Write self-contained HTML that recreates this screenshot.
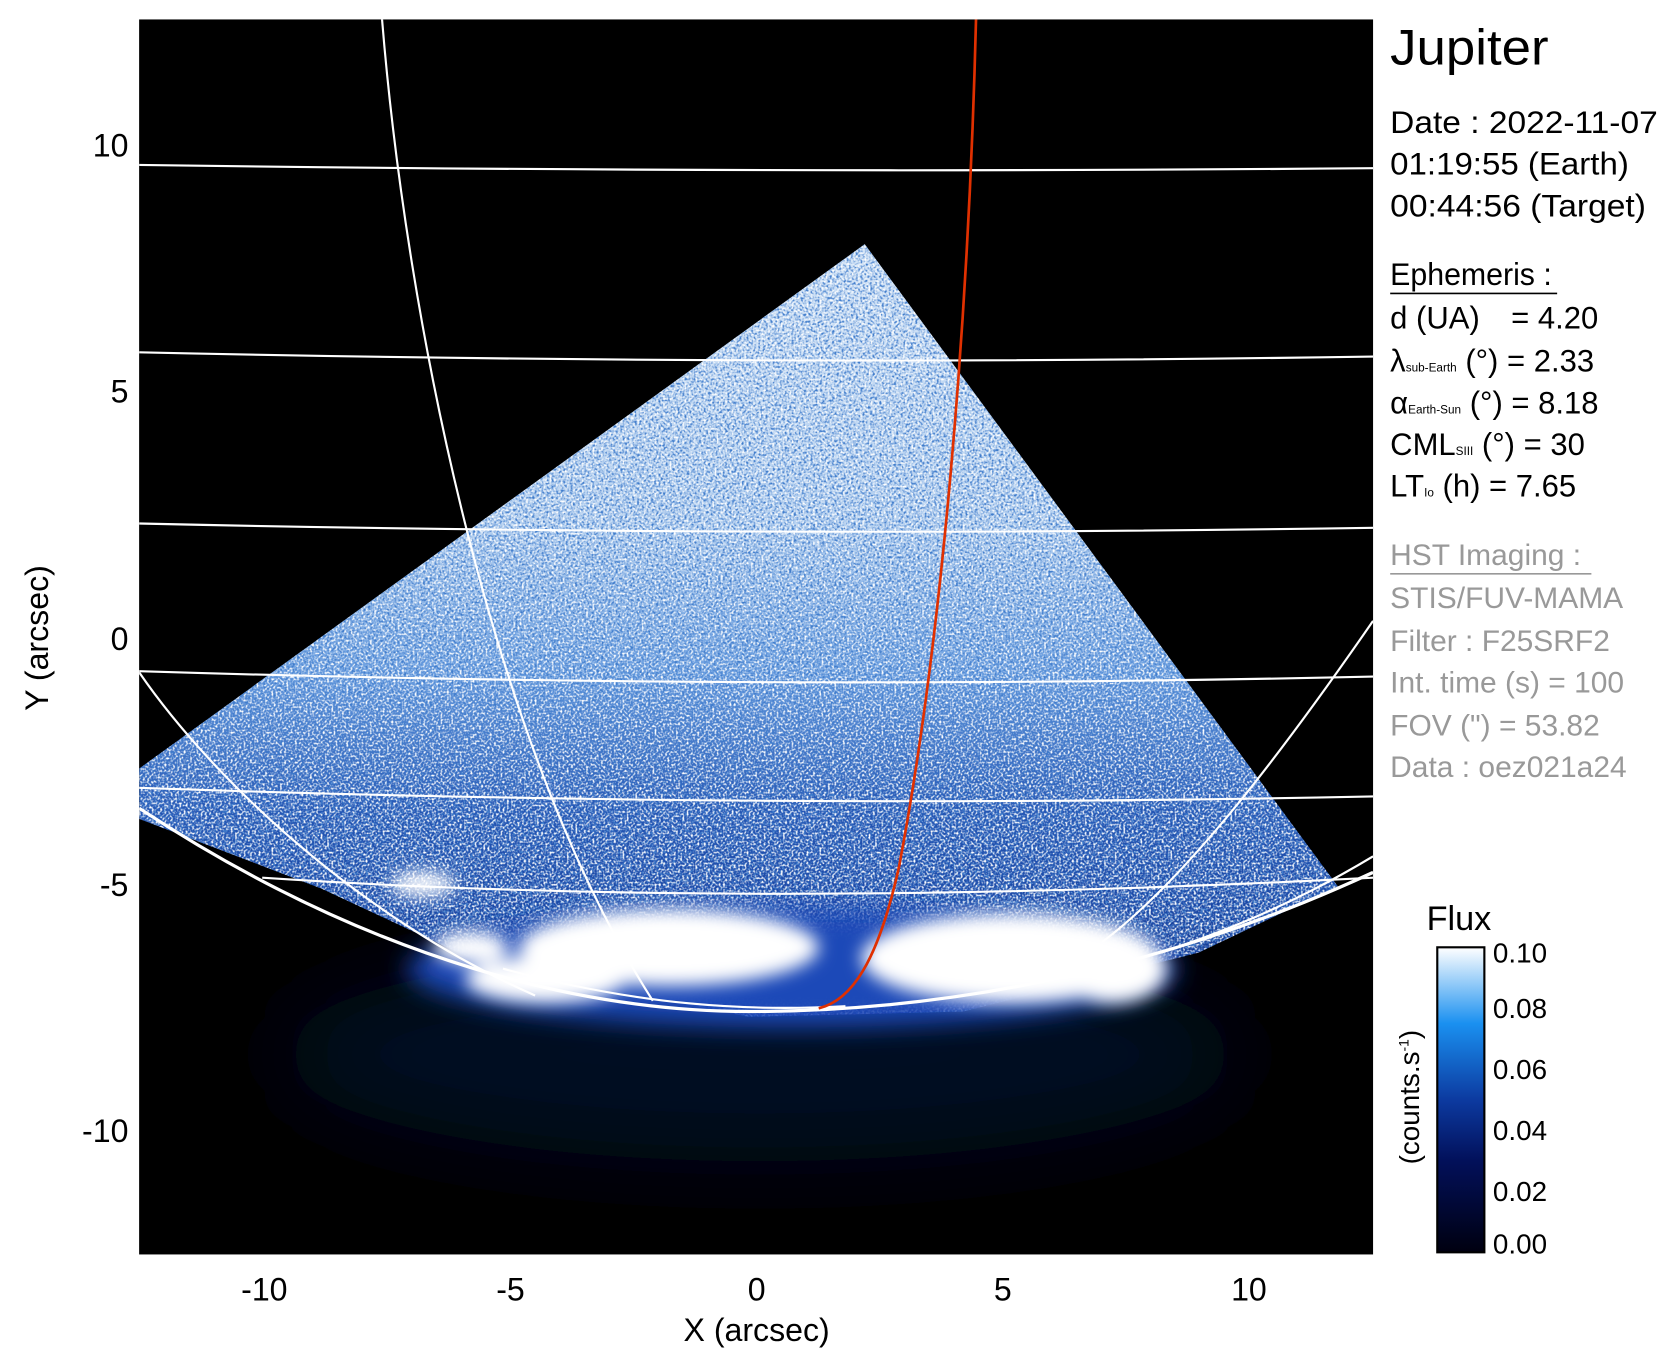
<!DOCTYPE html>
<html><head><meta charset="utf-8">
<style>html,body{margin:0;padding:0;background:#fff;}svg{display:block}</style></head>
<body>
<svg width="1677" height="1367" viewBox="0 0 1567 1277" xmlns="http://www.w3.org/2000/svg" font-family="Liberation Sans, sans-serif">
<defs>
<linearGradient id="bg" x1="0" y1="228" x2="0" y2="960" gradientUnits="userSpaceOnUse">
<stop offset="0" stop-color="#d0e2f6"/>
<stop offset="0.35" stop-color="#b4d0f0"/>
<stop offset="0.55" stop-color="#6a9ee0"/>
<stop offset="0.72" stop-color="#2456b4"/>
<stop offset="0.85" stop-color="#1a46a4"/>
<stop offset="1" stop-color="#102c80"/>
</linearGradient>
<linearGradient id="cb" x1="0" y1="1" x2="0" y2="0">
<stop offset="0" stop-color="#000010"/>
<stop offset="0.3" stop-color="#02105a"/>
<stop offset="0.5" stop-color="#0c3aa0"/>
<stop offset="0.75" stop-color="#1a90f0"/>
<stop offset="1" stop-color="#ffffff"/>
</linearGradient>
<filter id="noise" x="0" y="0" width="100%" height="100%">
<feTurbulence type="fractalNoise" baseFrequency="0.45" numOctaves="1" seed="3"/>
<feColorMatrix type="matrix" values="0 0 0 0 0.05  0 0 0 0 0.2  0 0 0 0 0.6  3.5 0 0 0 -1.5"/>
</filter>
<filter id="noise2" x="0" y="0" width="100%" height="100%">
<feTurbulence type="fractalNoise" baseFrequency="0.5" numOctaves="1" seed="9"/>
<feColorMatrix type="matrix" values="0 0 0 0 1  0 0 0 0 1  0 0 0 0 1  3.5 0 0 0 -1.6"/>
</filter>
<filter id="blur8" x="-50%" y="-100%" width="200%" height="300%"><feGaussianBlur stdDeviation="8"/></filter>
<filter id="blur12" x="-50%" y="-100%" width="200%" height="300%"><feGaussianBlur stdDeviation="12"/></filter>
<filter id="blur30" x="-50%" y="-100%" width="200%" height="300%"><feGaussianBlur stdDeviation="40"/></filter>
<clipPath id="plot"><rect x="130" y="18" width="1153" height="1154"/></clipPath>
<clipPath id="tri"><polygon points="130,718 808,228 1250,828 1120,890 900,945 700,950 450,900 300,830 130,765"/></clipPath>
</defs>

<rect x="130" y="18" width="1153" height="1154" fill="#000"/>
<g clip-path="url(#plot)">
<ellipse cx="710" cy="985" rx="450" ry="100" fill="#020722" filter="url(#blur30)"/>
<g clip-path="url(#tri)">
<rect x="130" y="220" width="1153" height="740" fill="url(#bg)"/>
<rect x="130" y="220" width="1153" height="740" filter="url(#noise)"/>
<rect x="130" y="220" width="1153" height="740" filter="url(#noise2)"/>
</g>
<ellipse cx="740" cy="905" rx="360" ry="55" fill="#1a4ab8" filter="url(#blur12)"/>
<g filter="url(#blur8)" fill="#fff">
<ellipse cx="625" cy="885" rx="140" ry="36"/>
<ellipse cx="945" cy="895" rx="140" ry="42"/>
<ellipse cx="1040" cy="905" rx="50" ry="32"/>
<ellipse cx="510" cy="915" rx="75" ry="22"/>
<ellipse cx="440" cy="885" rx="35" ry="15"/>
<ellipse cx="395" cy="826" rx="30" ry="11"/>
</g>
<g fill="none" stroke="#fff" stroke-width="2">
<path d="M130,154 Q707,162 1283,157"/>
<path d="M130,329 Q707,342 1283,333"/>
<path d="M130,489 Q707,502 1283,493"/>
<path d="M130,627 Q707,645 1283,632"/>
<path d="M130,736 Q707,756 1283,744"/>
<path d="M245,820 Q700,850 1283,820"/>
<path d="M357,18 C380,300 460,700 610,935"/>
<path d="M130,628 C200,730 340,860 500,930"/>
<path d="M1283,580 C1200,700 1110,820 1030,880"/>
<path d="M1283,800 C1200,850 1130,875 1085,890"/>
<path d="M470,905 C600,940 700,945 790,940"/>
<path d="M130,755 C350,900 550,945 700,945 C900,945 1100,900 1283,815" stroke-width="3"/>
</g>
<path d="M912,18 C905,300 880,600 840,810 C820,900 795,935 765,942" fill="none" stroke="#e03000" stroke-width="2.5"/>
</g>

<g font-size="30" fill="#000" text-anchor="middle">
<text x="247" y="1215">-10</text>
<text x="477" y="1215">-5</text>
<text x="707" y="1215">0</text>
<text x="937" y="1215">5</text>
<text x="1167" y="1215">10</text>
<text x="707" y="1253">X (arcsec)</text>
</g>
<g font-size="30" fill="#000" text-anchor="end">
<text x="120" y="146">10</text>
<text x="120" y="376">5</text>
<text x="120" y="607">0</text>
<text x="120" y="837">-5</text>
<text x="120" y="1067">-10</text>
</g>
<text transform="translate(45,596) rotate(-90)" font-size="30" text-anchor="middle">Y (arcsec)</text>

<text x="1299" y="60" font-size="47" textLength="148" lengthAdjust="spacingAndGlyphs">Jupiter</text>
<g font-size="29">
<text x="1299" y="124" textLength="250" lengthAdjust="spacingAndGlyphs">Date : 2022-11-07</text>
<text x="1299" y="163" textLength="223" lengthAdjust="spacingAndGlyphs">01:19:55 (Earth)</text>
<text x="1299" y="202" textLength="239" lengthAdjust="spacingAndGlyphs">00:44:56 (Target)</text>
<text x="1299" y="266" textLength="151" lengthAdjust="spacingAndGlyphs">Ephemeris :</text>
<text x="1299" y="307">d (UA)</text><text x="1412" y="307">= 4.20</text>
<text x="1299" y="347">λ<tspan font-size="11">sub-Earth</tspan> (°) = 2.33</text>
<text x="1299" y="386">α<tspan font-size="11">Earth-Sun</tspan> (°) = 8.18</text>
<text x="1299" y="425">CML<tspan font-size="11">SIII</tspan> (°) = 30</text>
<text x="1299" y="464">LT<tspan font-size="11">Io</tspan> (h) = 7.65</text>
</g>
<line x1="1299" y1="274" x2="1455" y2="274" stroke="#000" stroke-width="1.5"/>
<g font-size="28" fill="#999">
<text x="1299" y="528">HST Imaging :</text>
<text x="1299" y="568">STIS/FUV-MAMA</text>
<text x="1299" y="608">Filter : F25SRF2</text>
<text x="1299" y="647">Int. time (s) = 100</text>
<text x="1299" y="687">FOV (") = 53.82</text>
<text x="1299" y="726">Data : oez021a24</text>
</g>
<line x1="1299" y1="536" x2="1487" y2="536" stroke="#999" stroke-width="1.5"/>

<text x="1333" y="869" font-size="32">Flux</text>
<rect x="1343" y="885" width="44" height="285" fill="url(#cb)" stroke="#000" stroke-width="2"/>
<g font-size="26">
<text x="1395" y="899">0.10</text>
<text x="1395" y="951">0.08</text>
<text x="1395" y="1008">0.06</text>
<text x="1395" y="1065">0.04</text>
<text x="1395" y="1122">0.02</text>
<text x="1395" y="1171">0.00</text>
</g>
<text transform="translate(1326,1025) rotate(-90)" font-size="26" text-anchor="middle">(counts.s<tspan font-size="13" dy="-10">-1</tspan><tspan dy="10">)</tspan></text>
</svg>
</body></html>
